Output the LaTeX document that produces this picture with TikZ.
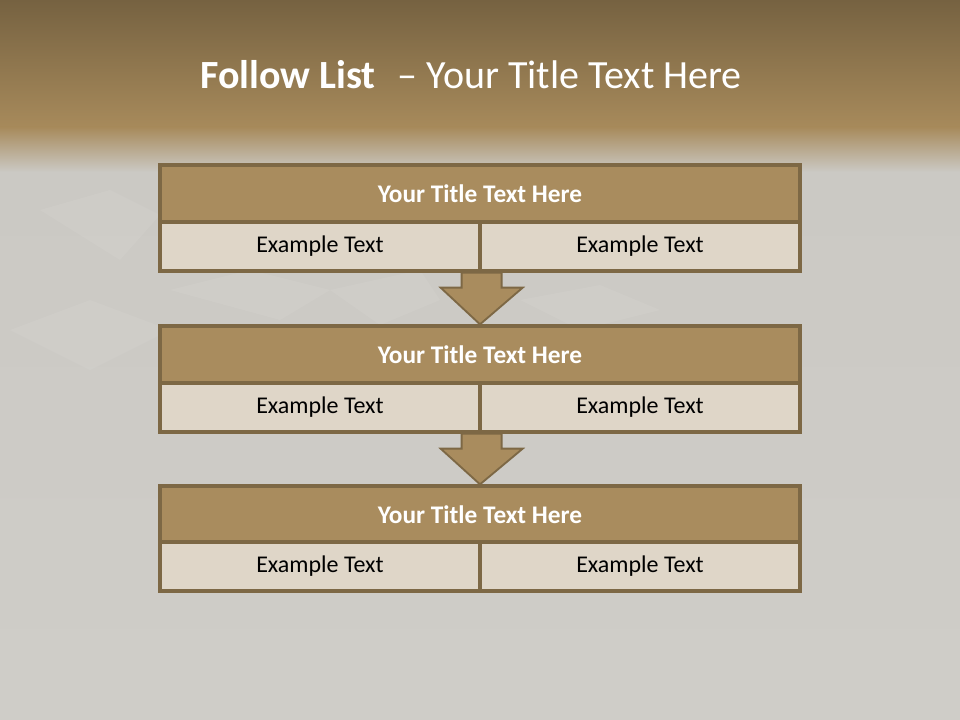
\documentclass[tikz,border=0pt]{standalone}
\usepackage{fontspec}
\setmainfont{Carlito}
\usetikzlibrary{calc}
\definecolor{bandfill}{HTML}{A98C5E}
\definecolor{bandline}{HTML}{7D6845}
\definecolor{cellfill}{HTML}{DFD6C8}
\definecolor{bgtop}{HTML}{766241}
\definecolor{bgmid}{HTML}{A78A5B}
\definecolor{bggray}{HTML}{CBC9C4}
\definecolor{bglight}{HTML}{D2D0CB}
\tikzset{
  titleband/.style={draw=bandline, fill=bandfill, line width=2.5pt, minimum width=480pt, minimum height=42.75pt, inner sep=0pt, text=white, font=\fontsize{19}{21}\selectfont\bfseries},
  cell/.style={draw=bandline, fill=cellfill, line width=2.5pt, minimum width=240pt, minimum height=36.75pt, inner sep=0pt, text=black, font=\fontsize{18}{20}\selectfont},
  downarrow/.style={draw=bandline, fill=bandfill, line width=1.4pt, line join=miter},
  facet/.style={fill=white, opacity=0.06}
}
\begin{document}
\begin{tikzpicture}[x=0.75pt, y=-0.75pt]
\useasboundingbox (0,0) rectangle (960,720);
% background
\fill[bggray] (0,0) rectangle (960,720);
\shade[top color=bggray, bottom color=bglight!60!bggray] (0,170) rectangle (960,720);
\shade[top color=bgtop, bottom color=bgmid] (0,0) rectangle (960,127);
\shade[top color=bgmid, bottom color=bggray] (0,127) rectangle (960,172);
% faint facets
\fill[facet] (170,290) -- (250,270) -- (330,290) -- (280,320) -- cycle;
\fill[facet] (330,290) -- (420,270) -- (440,300) -- (380,325) -- cycle;
\fill[facet] (10,330) -- (90,300) -- (170,330) -- (90,370) -- cycle;
\fill[facet] (40,210) -- (110,190) -- (160,215) -- (120,260) -- cycle;
\fill[facet] (520,300) -- (600,285) -- (660,310) -- (580,330) -- cycle;
% title
\node[text=white, font=\fontsize{30}{34}\selectfont] (title) at (471,75)
  {\textbf{Follow List}\hspace{0.55em}– Your Title Text Here};
% box 1
\node[titleband] (t1) at (480,193.5) {Your Title Text Here};
\node[cell] (a1) at (320,246.5) {Example Text};
\node[cell] (b1) at (640,246.5) {Example Text};
% box 2
\node[titleband] (t2) at (480,354.5) {Your Title Text Here};
\node[cell] (a2) at (320,407.5) {Example Text};
\node[cell] (b2) at (640,407.5) {Example Text};
% box 3
\node[titleband] (t3) at (480,514.5) {Your Title Text Here};
\node[cell] (a3) at (320,566.5) {Example Text};
\node[cell] (b3) at (640,566.5) {Example Text};
% arrows
\foreach \u/\l in {a1/t2, a2/t3} {
  \coordinate (top) at (\u.south east);
  \coordinate (tip) at (\l.north);
  \draw[downarrow] ($(top)+(-20,0)$) -- ($(top)+(20,0)$) -- ($(top)+(20,15)$)
    -- ($(top)+(41,15)$) -- (tip) -- ($(top)+(-41,15)$) -- ($(top)+(-20,15)$) -- cycle;
}
\end{tikzpicture}
\end{document}
